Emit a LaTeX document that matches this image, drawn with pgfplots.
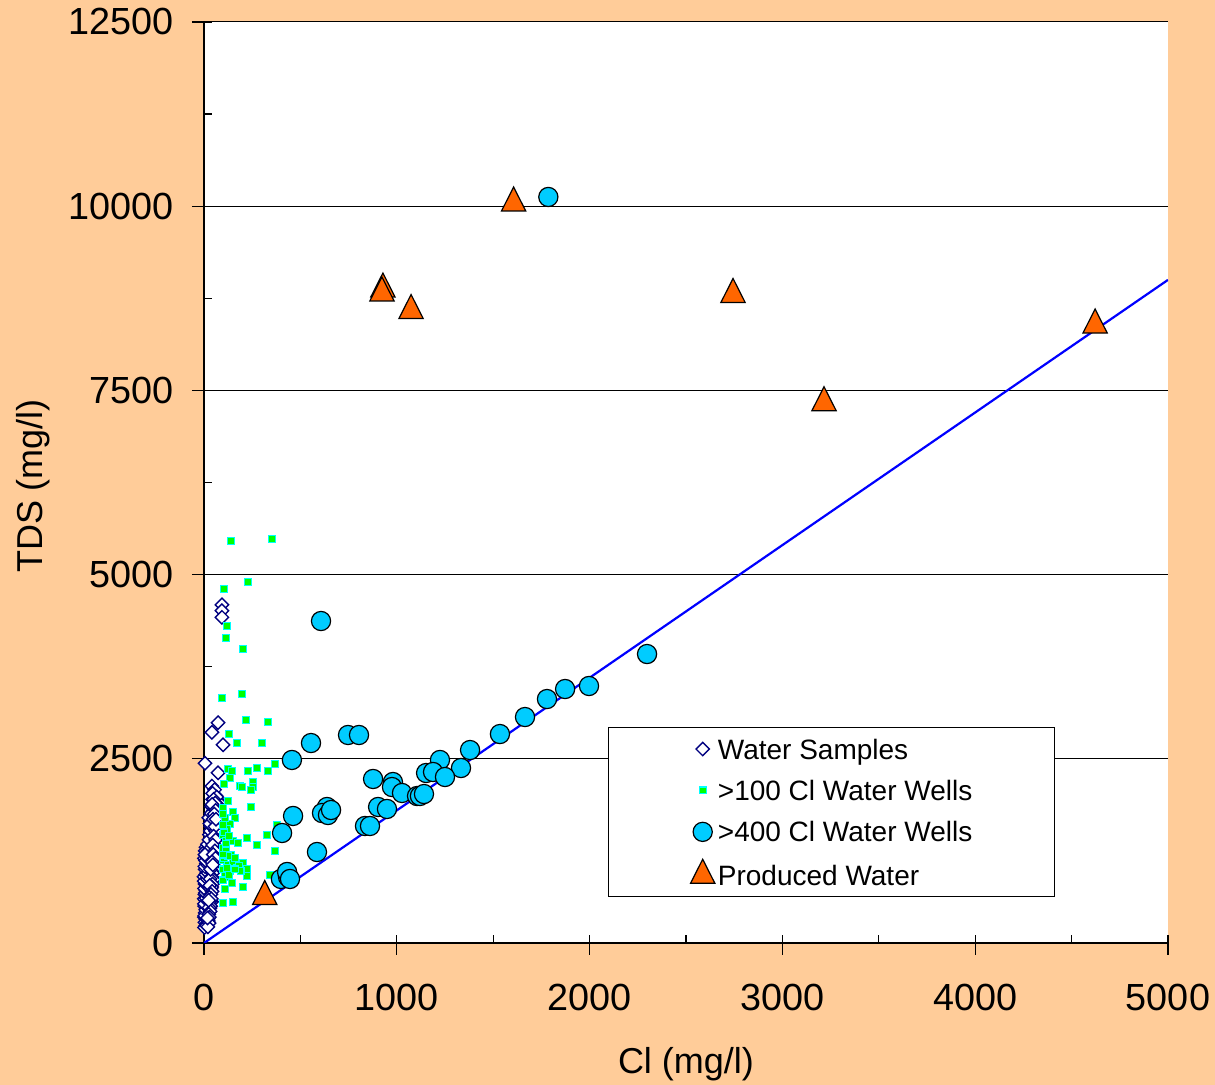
\documentclass[border=0pt]{standalone}
\usepackage{fontspec}
\setmainfont{Liberation Sans}
\usepackage{pgfplots}
\pgfplotsset{compat=1.18}
\definecolor{peach}{HTML}{FFCC99}
\definecolor{navyc}{HTML}{000080}
\definecolor{skyc}{HTML}{00CCFF}
\definecolor{orangec}{HTML}{FF6600}
\definecolor{greenc}{HTML}{00FF00}
\definecolor{cyanc}{HTML}{00FFFF}
\pgfplotsset{mylegimg/.style={legend image code/.code={\path[draw=none,fill=none] (-7pt,-7pt) rectangle (7pt,7pt); \draw[##1] plot coordinates {(0pt,0pt)};}}}
\begin{document}
\begin{tikzpicture}
\fill[peach] (-102pt,-71pt) rectangle (505.5pt,471.5pt);
\begin{axis}[
  at={(0pt,0pt)}, anchor=south west,
  scale only axis, width=482pt, height=460.5pt,
  xmin=0, xmax=5000, ymin=0, ymax=12500,
  scaled x ticks=false, scaled y ticks=false,
  axis lines=left, axis line style={-, black, line width=0.7pt},
  axis background/.style={fill=white},
  xtick={0,1000,...,5000}, minor xtick={500,1500,...,4500},
  ytick={0,2500,...,12500}, minor ytick={1250,3750,...,11250},
  ymajorgrids, major grid style={black, line width=0.5pt},
  tick align=outside,
  tick style={black, line width=0.6pt},
  major tick length=10pt, minor tick length=4pt,
  xtick style={yshift=4pt}, ytick style={xshift=4pt},
  /pgf/number format/assume math mode=true,
  /pgf/number format/1000 sep={},
  tick label style={font=\fontsize{18.9}{22}\selectfont},
  xticklabel style={yshift=-7pt},
  yticklabel style={xshift=-1.8pt},
  xlabel={Cl (mg/l)}, ylabel={TDS (mg/l)},
  label style={font=\fontsize{18}{21.6}\selectfont},
  xlabel style={at={(axis description cs:0.5,-0.1422)}, anchor=base},
  ylabel style={at={(axis description cs:-0.1673,0.4962)}, anchor=base, rotate=0},
  legend cell align=left,
  legend style={draw=none, fill=none, at={(axis description cs:0.5024,0.2262)}, anchor=north west,
    inner sep=0pt, row sep=6.7pt, column sep=0.6pt,
    nodes={inner sep=0pt, text height=11.5pt, text depth=1.5pt, font=\fontsize{14}{16.8}\selectfont},
    cells={anchor=west}},
]
% Water Samples
\addplot[only marks, mark=square*, mark size=2.35pt, mark options={rotate=45, draw=navyc, fill=white, line width=0.7pt}, mylegimg] coordinates {
(93,4590)(93,4510)(93,4420)(73,2990)(41,2860)(99,2690)(5,2440)(73,2310)(41,2130)
(62,2000)(70,1940)(55,1880)(75,1830)(48,1790)(65,1740)(40,1700)(72,1660)(52,1620)(35,1580)
(66,1540)(45,1500)(28,1470)(58,1430)(38,1390)(70,1360)(22,1330)(50,1300)(32,1260)(62,1230)
(18,1200)(44,1170)(30,1140)(55,1110)(12,1080)(38,1050)(24,1020)(48,990)(15,960)(34,930)
(8,900)(42,880)(22,850)(30,820)(5,800)(18,770)(36,740)(10,710)(26,690)(4,660)(20,630)
(32,600)(8,580)(16,550)(25,520)(3,500)(12,470)(20,440)(6,410)(14,380)(2,350)(10,320)
(18,300)(5,280)(12,260)(8,230)(3,210)(28,900)(46,1380)(60,1600)(80,1900)(15,650)(0,900)
(2,1150)(10,1300)(25,1700)(40,1850)(55,2080)(45,1950)(30,1080)(20,720)(50,1050)(66,1450)
(6,1000)(40,560)(1,600)(35,800)(58,1700)(12,850)
(14,240)(22,330)(4,370)(28,420)(9,450)(17,490)(30,470)(2,530)(22,560)(11,610)(27,640)
(7,680)(16,700)(31,710)(3,740)(24,760)(13,790)(28,830)(1,840)(17,870)(9,930)(21,950)
(36,970)(4,1040)(19,1060)(28,1100)(8,1120)(40,1120)(16,1160)(35,1190)(24,1230)(6,1250)
(44,1260)(30,1300)(18,1340)(52,1340)(38,1420)(26,1400)(55,1480)(33,1520)(48,1560)(42,1640)
(60,1520)(30,1620)(52,1820)(68,1880)(37,1760)(77,1720)(45,2030)(66,1980)(20,1250)(5,1200)
(50,1950)(58,1900)(42,1880)(60,1800)(53,1750)(47,1680)(57,1580)(62,1680)(50,1450)(60,1400)
(45,1330)(56,1250)(48,1200)(60,1150)(42,1100)(52,1000)(45,950)(38,900)(50,860)(32,870)
(44,800)(40,760)(30,780)(42,700)(36,660)(28,620)(38,600)(30,560)(35,500)(26,480)
(32,430)(25,390)(28,350)(22,300)(26,270)(20,220)(18,340)(24,580)(34,1000)(46,1060)
};
\addlegendentry{Water Samples}
% >100 Cl Water Wells
\addplot[only marks, mark=square*, mark size=1.7pt, mark options={draw=cyanc, fill=greenc, line width=0.6pt}, mylegimg] coordinates {
(140,5456)(353,5483)(228,4900)(104,4804)(119,4302)(114,4139)(202,3990)(93,3325)(197,3379)
(218,3027)(332,2999)(130,2837)(171,2714)(301,2714)(368,2429)(124,2361)(145,2334)(228,2334)
(275,2375)(332,2334)(135,2239)(104,2158)(187,2131)(197,2117)(254,2185)(254,2117)(244,2077)
(124,1927)(99,1832)(150,1778)(161,1696)(135,1615)(244,1846)(99,1466)(114,1384)(150,1384)
(176,1357)(223,1425)(275,1330)(327,1466)(368,1249)(99,1289)(99,1126)(124,1059)(150,1086)
(171,1018)(202,1086)(223,1004)(124,896)(145,814)(223,909)(202,760)(109,733)(99,543)
(150,556)(342,923)(379,1601)(110,1700)(120,1550)(105,1500)(130,1450)(115,1250)(140,1200)
(105,1150)(125,1180)(160,1150)(180,1050)(190,980)(110,950)(135,980)
(100,1600)(100,1750)(115,1350)(100,1000)(100,850)(118,1020)(130,920)(160,1000)(100,1200)
};
\addlegendentry{>100 Cl Water Wells}
% >400 Cl Water Wells
\addplot[only marks, mark=*, mark size=4.8pt, mark options={draw=black, fill=skyc, line width=0.6pt}, mylegimg] coordinates {
(1786,10125)(607,4370)(2298,3922)(1997,3488)(1873,3447)(1779,3311)(1665,3067)(1535,2836)
(555,2714)(747,2823)(804,2823)(456,2484)(1380,2619)(1224,2484)(1333,2375)(1152,2307)
(1188,2321)(1250,2253)(877,2226)(980,2185)(975,2117)(1027,2036)(1105,1995)(1120,1995)
(1141,2022)(903,1846)(949,1819)(638,1846)(612,1764)(643,1737)(659,1805)(462,1724)
(835,1588)(861,1588)(405,1493)(586,1235)(399,869)(436,896)(431,964)(446,869)
};
\addlegendentry{>400 Cl Water Wells}
% Produced Water
\addplot[only marks, mark=triangle*, mark size=7pt, mark options={yscale=1.14, draw=black, fill=orangec, line width=0.6pt}, mylegimg] coordinates {
(315,631)(928,8876)(923,8822)(1074,8584)(1606,10043)(2744,8802)(3216,7333)(4622,8387)
};
\addlegendentry{Produced Water}
\draw[black, fill=white, line width=0.6pt] (axis description cs:0.4194,0.0503) rectangle (axis description cs:0.8820,0.2342);
\addplot[color={rgb,255:red,0;green,0;blue,255}, line width=1.1pt, forget plot] coordinates {(0,0)(5000,9000)};
\end{axis}
\pgfresetboundingbox
\path (-102pt,-71pt) rectangle (505.5pt,471.5pt);
\end{tikzpicture}
\end{document}
